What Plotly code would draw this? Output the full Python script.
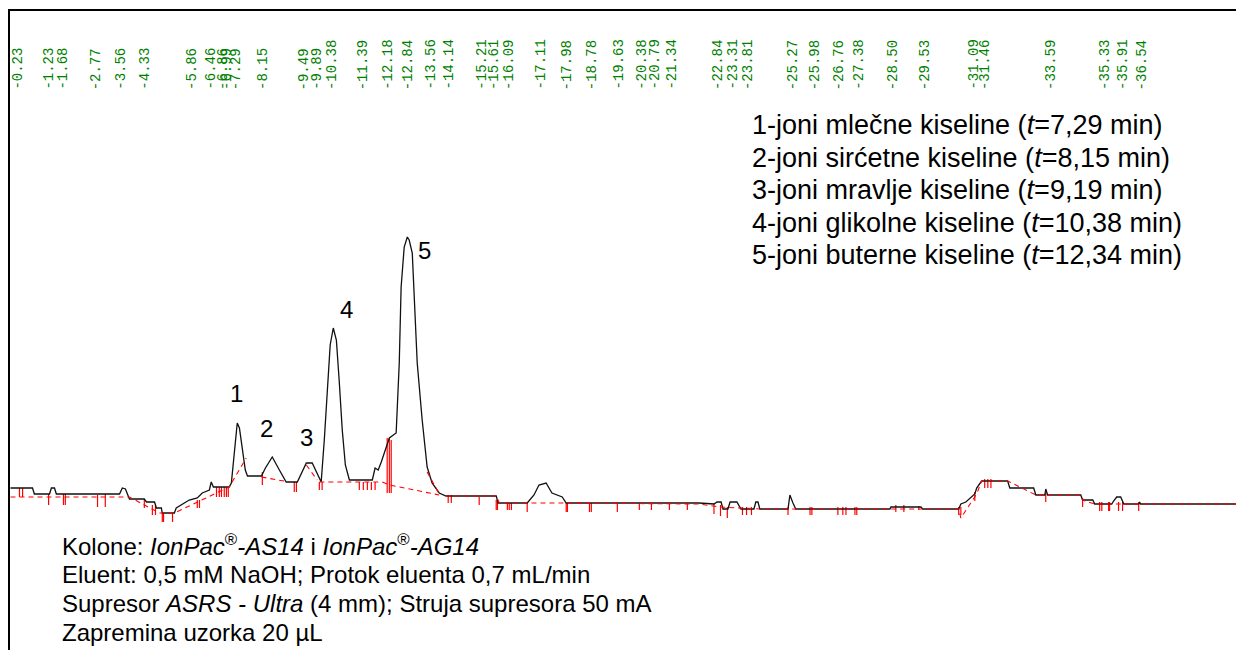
import plotly.graph_objects as go

# chromatogram signal (min, uS)
time_min = [0.00, 0.71, 0.77, 1.26, 1.32, 1.42, 1.48, 3.52, 3.61, 3.71, 3.84, 4.32, 4.39, 4.65,
            4.71, 4.87, 4.90, 5.29, 5.35, 5.52, 5.77, 6.03, 6.19, 6.42, 6.48, 6.55, 7.06, 7.13,
            7.23, 7.32, 7.39, 7.48, 7.58, 7.65, 8.10, 8.23, 8.45, 8.68, 8.90, 9.26, 9.42, 9.55,
            9.74, 9.87, 10.03, 10.13, 10.23, 10.32, 10.42, 10.52, 10.61, 10.71, 10.81, 10.94,
            11.68, 11.77, 11.87, 11.97, 12.23, 12.45, 12.55, 12.61, 12.71, 12.81, 12.87, 12.97,
            13.13, 13.29, 13.45, 13.61, 13.84, 14.06, 15.68, 15.74, 16.68, 16.90, 17.06, 17.29,
            17.48, 17.81, 17.94, 22.23, 22.71, 22.81, 22.94, 23.00, 23.16, 23.23, 23.45, 23.58,
            24.00, 24.06, 24.13, 24.19, 25.10, 25.16, 25.26, 25.35, 28.39, 28.42, 29.39, 29.45,
            30.61, 30.68, 30.84, 31.13, 31.19, 31.35, 32.19, 32.26, 33.03, 33.10, 33.39, 33.42,
            33.48, 34.55, 34.61, 34.94, 35.00, 35.55, 35.61, 35.71, 35.84, 35.94, 36.42, 36.45,
            36.48, 39.77]
signal_us = [0.12, 0.12, 0.06, 0.06, 0.12, 0.12, 0.06, 0.06, 0.12, 0.11, 0.01, 0.01, -0.02, -0.02,
             -0.08, -0.08, -0.13, -0.13, -0.08, -0.05, 0.00, 0.02, 0.07, 0.10, 0.18, 0.13, 0.13, 0.17,
             0.50, 0.77, 0.72, 0.50, 0.30, 0.24, 0.24, 0.32, 0.43, 0.30, 0.18, 0.18, 0.28, 0.37,
             0.37, 0.28, 0.18, 0.60, 1.10, 1.55, 1.72, 1.60, 1.20, 0.70, 0.35, 0.20,
             0.20, 0.32, 0.30, 0.38, 0.62, 0.67, 1.37, 2.13, 2.53, 2.63, 2.60, 2.47,
             1.37, 0.80, 0.33, 0.17, 0.07, 0.04, 0.04, -0.03, -0.03, 0.05, 0.15, 0.17,
             0.07, 0.03, -0.03, -0.03, -0.04, -0.02, -0.02, -0.09, -0.09, -0.02, -0.02, -0.09,
             -0.09, -0.02, -0.02, -0.09, -0.09, 0.05, -0.03, -0.09, -0.09, -0.07, -0.07, -0.09,
             -0.09, -0.04, -0.02, 0.06, 0.12, 0.19, 0.19, 0.12, 0.12, 0.05, 0.05, 0.11,
             0.05, 0.05, 0.00, 0.00, -0.04, -0.04, -0.01, 0.03, 0.03, -0.04, -0.04, -0.02,
             -0.04, -0.04]

# integration baseline (None = break)
base_t = [0.00, 3.84, 4.81, 5.29, 7.06, 7.61, None, 8.10, 9.00, None, 9.55, 9.90, None,
          9.97, 12.00, 12.23, 13.84, None, 13.45, 13.84, None,
          14.06, 15.68, 15.78, 17.94, 22.23, 22.90, 24.20, 30.61, 30.68, 31.19, 31.35, 32.19,
          33.10, 34.55, 34.61, 35.00, 39.77]
base_s = [0.03, 0.03, -0.13, -0.13, 0.13, 0.42, None, 0.23, 0.18, None, 0.35, 0.20, None,
          0.18, 0.18, 0.15, 0.05, None, 0.28, 0.06, None,
          0.04, 0.04, -0.03, -0.03, -0.04, -0.07, -0.09, -0.09, -0.18, 0.06, 0.19, 0.19,
          0.05, 0.05, 0.00, -0.04, -0.04]

# peak start/end markers
tick_t = [0.29, 0.39, 1.23, 1.71, 1.77, 2.81, 3.06, 4.32, 4.58, 4.68, 4.90, 4.94, 5.23, 6.03, 6.10,
          6.65, 6.74, 6.81, 6.90, 6.97, 7.03, 8.13, 9.16, 9.23, 9.97, 10.06,
          11.26, 11.39, 11.52, 11.65, 11.77, 12.16, 12.23, 12.29, 14.13, 14.23, 15.13, 15.68, 15.72,
          16.04, 16.10, 16.17, 16.68, 17.94, 17.98, 18.69, 18.75, 19.59, 20.30, 20.69, 21.27, 21.85,
          22.71, 22.92, 23.14, 23.63, 23.76, 23.92, 25.10, 25.81, 25.87, 26.71, 26.87, 26.97,
          27.26, 27.32, 28.58, 28.84, 29.32, 30.61, 30.68, 31.13, 31.45, 31.55, 31.65, 33.42,
          34.61, 35.16, 35.23, 35.45, 35.48, 35.77, 35.90, 36.42]
tick_top = [0.12, 0.12, 0.06, 0.06, 0.06, 0.05, 0.06, 0.01, -0.05, -0.05, -0.13, -0.13, -0.13, 0.00, 0.00,
            0.13, 0.13, 0.13, 0.13, 0.13, 0.13, 0.28, 0.18, 0.18, 0.18, 0.18,
            0.18, 0.18, 0.18, 0.18, 0.18, 0.62, 0.62, 0.60, 0.05, 0.05, 0.03, 0.00, 0.00,
            -0.03, -0.03, -0.03, -0.03, -0.03, -0.03, -0.03, -0.03, -0.03, -0.03, -0.03, -0.03, -0.03,
            -0.03, -0.05, -0.07, -0.07, -0.07, -0.07, -0.07, -0.07, -0.07, -0.07, -0.07, -0.07,
            -0.07, -0.07, -0.05, -0.05, -0.06, -0.07, -0.07, 0.08, 0.21, 0.21, 0.21, 0.07,
            0.02, -0.02, -0.02, -0.02, -0.02, -0.02, -0.02, -0.02]
tick_bottom = [0.03, 0.03, -0.05, -0.05, -0.05, -0.07, -0.07, -0.08, -0.15, -0.15, -0.22, -0.22, -0.22, -0.08, -0.08,
               0.03, 0.03, 0.03, 0.03, 0.03, 0.03, 0.15, 0.08, 0.08, 0.10, 0.10,
               0.10, 0.10, 0.10, 0.10, 0.10, 0.07, 0.07, 0.07, -0.03, -0.03, -0.05, -0.10, -0.10,
               -0.10, -0.10, -0.10, -0.12, -0.12, -0.12, -0.12, -0.12, -0.12, -0.10, -0.10, -0.10, -0.10,
               -0.14, -0.16, -0.18, -0.15, -0.15, -0.15, -0.15, -0.15, -0.15, -0.15, -0.15, -0.15,
               -0.15, -0.15, -0.12, -0.12, -0.10, -0.15, -0.15, -0.01, 0.12, 0.12, 0.12, -0.02,
               -0.07, -0.11, -0.11, -0.11, -0.11, -0.11, -0.11, -0.11]

# retention times printed at the top
rt_labels = [0.23, 1.23, 1.68, 2.77, 3.56, 4.33, 5.86, 6.46, 6.86, 6.99, 7.29, 8.15, 9.49, 9.89,
             10.38, 11.39, 12.18, 12.84, 13.56, 14.14, 15.21, 15.61, 16.09, 17.11, 17.98, 18.78,
             19.63, 20.38, 20.79, 21.34, 22.84, 23.31, 23.81, 25.27, 25.98, 26.76, 27.38, 28.50,
             29.53, 31.09, 31.46, 33.59, 35.33, 35.91, 36.54]

peak_no = ['1', '2', '3', '4', '5']
peak_label_t = [7.31, 8.28, 9.54, 10.86, 13.38]
peak_label_s = [1.07, 0.72, 0.63, 1.91, 2.50]

legend_lines = ['1-joni mlečne kiseline (<i>t</i>=7,29 min)',
                '2-joni sirćetne kiseline (<i>t</i>=8,15 min)',
                '3-joni mravlje kiseline (<i>t</i>=9,19 min)',
                '4-joni glikolne kiseline (<i>t</i>=10,38 min)',
                '5-joni buterne kiseline (<i>t</i>=12,34 min)']
cond_lines = ['Kolone: <i>IonPac</i><sup>®</sup><i>-AS14</i> i <i>IonPac</i><sup>®</sup><i>-AG14</i>',
              'Eluent: 0,5 mM NaOH; Protok eluenta 0,7 mL/min',
              'Supresor <i>ASRS - Ultra</i> (4 mm); Struja supresora 50 mA',
              'Zapremina uzorka 20 µL']

# page is shown with the browser's 8px body margin, so the figure is 8px smaller
W, H = 1236, 642
mt, ml = 3, 2
ph = H - mt
pw = W - ml


def py(px):
    # px measured on the 650px-high page
    return (H + 8 - px) / ph


def pxx(px):
    return (px - 8 - ml) / pw


fig = go.Figure()

tx, ty = [], []
for t, a, b in zip(tick_t, tick_top, tick_bottom):
    tx += [t, t, None]
    ty += [a, b, None]
fig.add_trace(go.Scatter(x=tx, y=ty, mode='lines', line=dict(color='#ff0000', width=1.2),
                         hoverinfo='skip'))
fig.add_trace(go.Scatter(x=time_min, y=signal_us, mode='lines',
                         line=dict(color='#111111', width=1.3)))
fig.add_trace(go.Scatter(x=base_t, y=base_s, mode='lines', connectgaps=False,
                         line=dict(color='#ff0000', width=1.1, dash='5px,4px')))

ann = []
for t in rt_labels:
    ann.append(dict(x=t, y=py(92), xref='x', yref='paper', text='-' + format(t, '.2f'),
                    textangle=-90, showarrow=False, xanchor='center', yanchor='bottom',
                    font=dict(family='Liberation Mono', size=14, color='#008000')))
for s, t, v in zip(peak_no, peak_label_t, peak_label_s):
    ann.append(dict(x=t, y=v, xref='x', yref='y', text=s, showarrow=False,
                    font=dict(family='Liberation Sans', size=24, color='black')))
for i, line in enumerate(legend_lines):
    ann.append(dict(x=pxx(750), y=py(125 + 32.5 * i), xref='paper', yref='paper',
                    text=line, showarrow=False, xanchor='left', yanchor='middle',
                    font=dict(family='Liberation Sans', size=27, color='black')))
for i, line in enumerate(cond_lines):
    ann.append(dict(x=pxx(60), y=py(545 + 29 * i), xref='paper', yref='paper',
                    text=line, showarrow=False, xanchor='left', yanchor='middle',
                    font=dict(family='Liberation Sans', size=24, color='black')))

fig.update_layout(
    width=W, height=H,
    margin=dict(l=ml, r=0, t=mt, b=0),
    paper_bgcolor='white', plot_bgcolor='white',
    showlegend=False,
    annotations=ann,
    xaxis=dict(range=[-0.016, 39.82], side='top', showline=True, linecolor='black', linewidth=2,
               showgrid=False, zeroline=False, showticklabels=False, ticks=''),
    yaxis=dict(range=[-1.50, 4.89], showline=True, linecolor='black', linewidth=2,
               showgrid=False, zeroline=False, showticklabels=False, ticks=''),
)

fig.write_html("out.html")
